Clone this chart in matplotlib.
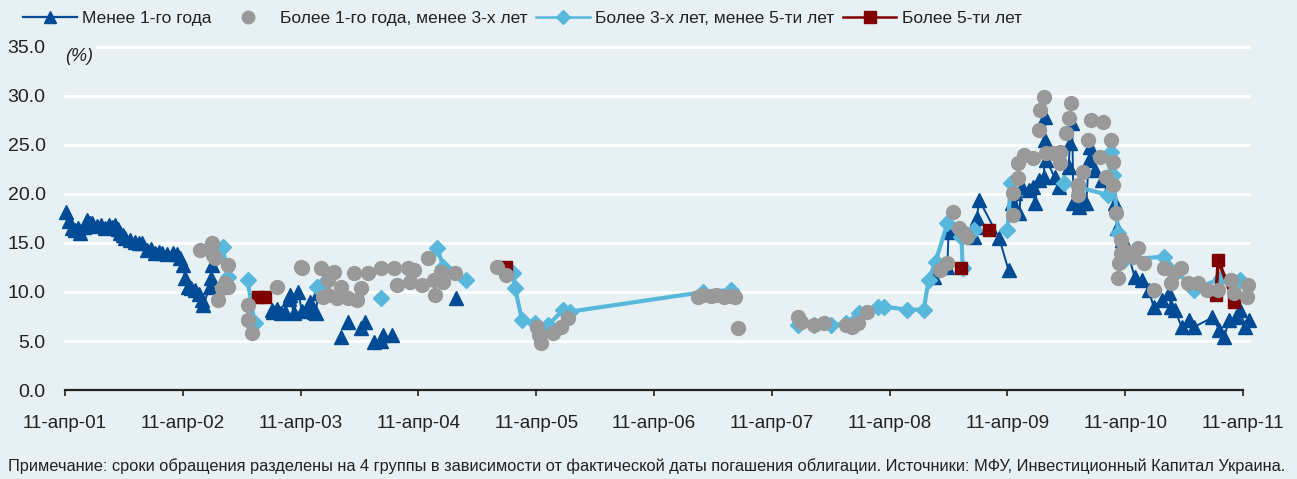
import numpy as np
import matplotlib
matplotlib.use("Agg")
import matplotlib.pyplot as plt
from matplotlib.lines import Line2D

plt.rcParams['font.family'] = ['Liberation Sans', 'DejaVu Sans']

nan = np.nan
# x = years since 11-Apr-2001
tick_labels = ["11-апр-01", "11-апр-02", "11-апр-03", "11-апр-04", "11-апр-05", "11-апр-06",
               "11-апр-07", "11-апр-08", "11-апр-09", "11-апр-10", "11-апр-11"]
y_ticks = [0, 5, 10, 15, 20, 25, 30, 35]

# Менее 1-го года
s1_x = [0.01, 0.03, 0.06, 0.085, 0.11, 0.13, 0.16, 0.185, 0.21, 0.23, 0.27, 0.31, 0.34, 0.37, 0.40,
        0.425, 0.45, 0.47, 0.49, 0.51, 0.55, 0.595, 0.63, 0.655, 0.70, 0.73, 0.765, 0.80, 0.825, 0.87,
        0.92, 0.95, 0.98, 1.00, 1.02, 1.045, 1.07, 1.105, 1.14, 1.165, 1.175, 1.23, 1.24, 1.25, nan,
        1.76, 1.77, 1.80, 1.83, 1.87, 1.90, 1.91, 1.94, 1.98, 2.01, 2.06, 2.08, 2.11, 2.13, 2.15, nan,
        2.34, nan, 2.40, nan, 2.51, nan, 2.55, nan, 2.62, nan, 2.68, nan, 2.70, nan, 2.78, nan, 3.32, nan,
        7.38, 7.40, 7.49, 7.50, 7.72, 7.73, 7.74, 7.76, 7.93, 8.01, nan,
        8.04, 8.06, 8.10, 8.12, 8.18, 8.22, 8.23, 8.27, 8.31, 8.32, 8.32, 8.33, 8.40, 8.44, 8.52, 8.53,
        8.55, 8.56, 8.61, 8.63, 8.67, 8.69, 8.70, 8.74, 8.80, 8.86, 8.91, 8.93, 8.97, 9.00, 9.08, 9.14,
        9.20, 9.24, 9.31, 9.37, 9.39, 9.42, 9.48, 9.54, 9.58, 9.74, 9.80, 9.84, 9.88, 9.94, 9.97, 10.02,
        10.05]
s1_y = [18.2, 17.2, 16.5, 16.3, 16.5, 16.0, 16.6, 17.3, 17.0, 17.0, 16.7, 16.8, 16.5, 16.8, 16.6,
        16.8, 16.4, 16.0, 15.8, 15.5, 15.3, 15.1, 15.0, 15.0, 14.3, 14.4, 14.0, 14.1, 14.0, 13.9,
        14.0, 13.9, 13.5, 12.8, 11.4, 10.5, 10.4, 10.2, 9.8, 9.2, 8.7, 10.5, 11.4, 12.8, nan,
        8.2, 8.0, 8.3, 7.9, 8.0, 9.3, 9.7, 7.9, 10.0, 8.1, 8.2, 9.0, 8.0, 7.9, 9.9, nan,
        5.4, nan, 6.9, nan, 6.3, nan, 6.9, nan, 4.9, nan, 5.0, nan, 5.6, nan, 5.6, nan, 9.4, nan,
        11.5, 12.6, 12.6, 16.1, 15.6, 16.6, 17.5, 19.4, 15.5, 12.2, nan,
        19.1, 20.1, 18.1, 20.7, 20.4, 20.7, 19.1, 21.4, 21.7, 27.9, 25.5, 23.5, 21.7, 20.7, 22.8, 25.2,
        27.2, 19.1, 18.7, 19.1, 19.1, 23.5, 24.8, 22.4, 21.4, 20.6, 19.1, 16.5, 15.3, 15.0, 11.5, 11.2,
        10.2, 8.5, 9.2, 9.9, 8.5, 8.2, 6.4, 7.1, 6.4, 7.4, 6.1, 5.4, 7.1, 7.4, 8.2, 6.4,
        7.1]

# Более 1-го года, менее 3-х лет
s2_x = [1.15, 1.25, 1.26, 1.27, 1.30, 1.33, 1.36, 1.38, 1.38, 1.55, 1.55, 1.59, 1.80, 2.00, 2.01,
        2.17, 2.19, 2.23, 2.23, 2.28, 2.31, 2.34, 2.40, 2.45, 2.48, 2.51, 2.57, 2.68, 2.79, 2.82,
        2.91, 2.93, 2.96, 3.03, 3.08, 3.13, 3.14, 3.19, 3.21, 3.31,
        3.67, 3.74, 4.01, 4.02, 4.04, 4.14, 4.21, 4.27,
        5.37, 5.42, 5.48, 5.53, 5.59, 5.65, 5.69, 5.71,
        6.22, 6.25, 6.36, 6.44, 6.63, 6.68, 6.73, 6.81,
        7.43, 7.49, 7.54, 7.59, 7.63, 7.66,
        8.05, 8.05, 8.09, 8.09, 8.14, 8.22, 8.27, 8.28, 8.31, 8.33, 8.39, 8.45, 8.45, 8.50, 8.52,
        8.54, 8.60, 8.60, 8.64, 8.68, 8.71, 8.79, 8.81, 8.84, 8.88, 8.90, 8.90, 8.92, 8.94, 8.95,
        8.96, 8.96, 8.99, 9.07, 9.11, 9.16, 9.24, 9.33, 9.39, 9.41, 9.47, 9.53, 9.62, 9.69, 9.79,
        9.90, 9.92, 10.03, 10.04]
s2_y = [14.3, 15.0, 13.8, 13.5, 9.2, 10.4, 10.9, 10.5, 12.8, 8.7, 7.1, 5.8, 10.5, 12.5, 12.4,
        12.4, 9.5, 11.2, 9.7, 12.0, 9.4, 10.5, 9.4, 11.9, 9.2, 10.4, 11.9, 12.4, 12.4, 10.7,
        12.4, 11.0, 12.2, 10.7, 13.5, 11.2, 9.7, 12.0, 11.0, 11.9,
        12.6, 11.7, 6.4, 5.6, 4.8, 5.8, 6.4, 7.3,
        9.5, 9.7, 9.6, 9.7, 9.5, 9.6, 9.5, 6.3,
        7.4, 6.9, 6.6, 6.8, 6.6, 6.4, 6.8, 8.0,
        12.2, 13.0, 18.2, 16.5, 16.0, 15.6,
        17.9, 20.1, 21.6, 23.2, 24.0, 23.7, 26.5, 28.6, 29.9, 24.2, 24.2, 23.2, 24.3, 26.2, 27.8,
        29.3, 20.9, 19.9, 22.2, 25.5, 27.6, 23.8, 27.3, 21.7, 25.5, 23.3, 20.9, 18.1, 11.4, 13.0,
        15.3, 14.0, 14.3, 13.6, 14.5, 13.0, 10.2, 12.4, 10.9, 11.9, 12.4, 10.9, 10.9, 10.2, 10.2,
        11.2, 9.9, 9.5, 10.7]

# Более 3-х лет, менее 5-ти лет
s3_x = [1.34, 1.38, nan, 1.55, 1.61, nan, 2.14, 2.18, nan, 2.68, nan, 3.16, 3.21, nan, 3.40, nan,
        3.80, 3.82, 3.88, 3.99, 4.10, 4.23, 4.29, 5.42, 5.65, nan,
        6.22, 6.36, 6.50, 6.63, 6.74, 6.90, 6.95, 7.15, 7.29, 7.33, 7.39, 7.49, 7.61, 7.62, nan,
        7.72, nan, 8.00, 8.03, nan, 8.48, 8.85, 8.88, 8.90, 8.94, 8.99, 9.33, 9.58, 9.81, 9.97]
s3_y = [14.6, 11.5, nan, 11.2, 6.8, nan, 10.5, 10.7, nan, 9.4, nan, 14.5, 12.6, nan, 11.2, nan,
        11.9, 10.4, 7.1, 6.8, 6.6, 8.2, 8.0, 10.0, 10.2, nan,
        6.6, 6.6, 6.6, 6.8, 7.9, 8.5, 8.5, 8.2, 8.2, 11.2, 13.1, 17.0, 15.6, 12.4, nan,
        16.3, nan, 16.3, 21.1, nan, 21.1, 19.9, 24.3, 21.9, 16.0, 13.3, 13.6, 10.2, 11.4, 11.2]

# Более 5-ти лет
s4_x = [1.64, 1.70, nan, 3.74, nan, 7.61, nan, 7.84, nan, 9.77, 9.79, 9.92]
s4_y = [9.5, 9.5, nan, 12.6, nan, 12.4, nan, 16.3, nan, 9.7, 13.3, 9.0]

bg = '#e7f0f2'
c_dark = '#004b96'
c_light = '#58b8dc'
c_grey = '#999999'
c_red = '#7f0000'

fig = plt.figure(figsize=(12.97, 4.79), dpi=100, facecolor=bg)
ax = fig.add_axes([0.0501, 0.1858, 0.9083, 0.7161], facecolor=bg)

ax.plot(s1_x, s1_y, color=c_dark, lw=1.4, marker='^', ms=10.5, mec=c_dark, mfc=c_dark,
        zorder=3, clip_on=False)
ax.plot(s3_x, s3_y, color=c_light, lw=3, marker='D', ms=8, mec=c_light, mfc=c_light,
        zorder=4, clip_on=False)
ax.plot(s4_x, s4_y, color=c_red, lw=2.5, marker='s', ms=9, mec=c_red, mfc=c_red,
        zorder=5, clip_on=False)
ax.plot(s2_x, s2_y, ls='none', marker='o', ms=10, mec=c_grey, mfc=c_grey,
        zorder=6, clip_on=False)

ax.set_xlim(0, 10)
ax.set_ylim(0, 35)
ax.set_yticks(y_ticks)
ax.set_yticklabels([f"{v:.1f}" for v in y_ticks], fontsize=14, color='#222222')
ax.set_xticks(range(len(tick_labels)))
ax.set_xticklabels(tick_labels, fontsize=13.6, color='#222222')
ax.tick_params(axis='y', length=0, pad=14)
ax.tick_params(axis='x', direction='out', length=4, width=1.2, color='#222222', pad=14)
for y in y_ticks[1:]:
    ax.axhline(y, xmin=0, xmax=1.005, color='white', lw=2, zorder=1, clip_on=False)
for s in ['left', 'right', 'top']:
    ax.spines[s].set_visible(False)
ax.spines['bottom'].set_linewidth(1.6)
ax.spines['bottom'].set_color('#222222')
ax.spines['bottom'].set_zorder(2)

ax.text(0.0, 33.6, "(%)", fontsize=13, style='italic', color='#222222', zorder=7,
        bbox=dict(facecolor=bg, edgecolor='none', pad=2))

handles = [
    Line2D([], [], color=c_dark, lw=1.6, marker='^', ms=9, mfc=c_dark, mec=c_dark),
    Line2D([], [], ls='none', marker='o', ms=9, mfc=c_grey, mec=c_grey),
    Line2D([], [], color=c_light, lw=1.8, marker='D', ms=7, mfc=c_light, mec=c_light),
    Line2D([], [], color=c_red, lw=1.8, marker='s', ms=8, mfc=c_red, mec=c_red),
]
labels = ["Менее 1-го года", "Более 1-го года, менее 3-х лет", "Более 3-х лет, менее 5-ти лет",
          "Более 5-ти лет"]
fig.legend(handles, labels, loc='upper left', bbox_to_anchor=(0.006, 1.01), ncol=4, frameon=False,
           fontsize=12.5, handlelength=3.1, handletextpad=0.3, columnspacing=0.5, labelcolor='#222222')

fig.text(0.006, 0.027, "Примечание: сроки обращения разделены на 4 группы в зависимости от фактической даты "
         "погашения облигации. Источники: МФУ, Инвестиционный Капитал Украина.",
         fontsize=11.8, color='#222222', va='center')

fig.savefig("out.png", dpi=100, facecolor=bg)
